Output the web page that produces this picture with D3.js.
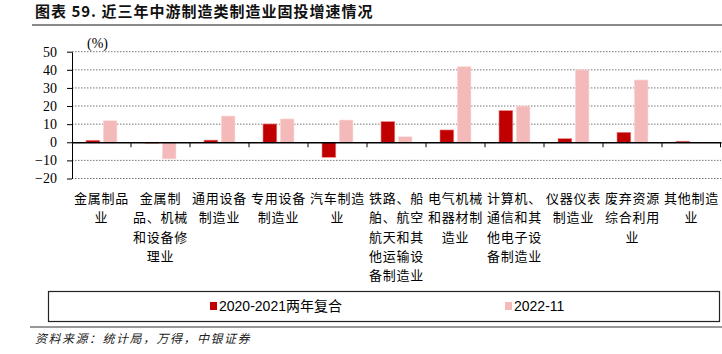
<!DOCTYPE html>
<html>
<head>
<meta charset="utf-8">
<script src="https://cdn.jsdelivr.net/npm/d3@7"></script>
<style>
  body { margin: 0; background: #fff; }
  svg { display: block; }
</style>
</head>
<body>
<div id="chart-area"></div>
<script>
// Data
var categories = [
  "金属制品\n业",
  "金属制\n品、机械\n和设备修\n理业",
  "通用设备\n制造业",
  "专用设备\n制造业",
  "汽车制造\n业",
  "铁路、船\n舶、航空\n航天和其\n他运输设\n备制造业",
  "电气机械\n和器材制\n造业",
  "计算机、\n通信和其\n他电子设\n备制造业",
  "仪器仪表\n制造业",
  "废弃资源\n综合利用\n业",
  "其他制造\n业"
];
var seriesNames = ["2020-2021两年复合", "2022-11"];
var twoYear = [1.1, -0.5, 1.2, 10.1, -8.3, 11.4, 6.8, 17.5, 2.0, 5.5, 0.6];
var nov2022 = [11.9, -9.2, 14.5, 12.9, 12.3, 3.1, 41.8, 20.0, 40.0, 34.4, 0];
var yTicks = [-20, -10, 0, 10, 20, 30, 40, 50];

var colors = ["#c00000", "#f4b9b9"];

var W = 722, H = 354;
var svg = d3.select("#chart-area")
  .append("svg")
  .attr("width", W)
  .attr("height", H);

// Title
svg.append("text")
  .attr("x", 35)
  .attr("y", 17)
  .attr("font-family", "Noto Sans CJK SC")
  .attr("font-weight", "bold")
  .attr("font-size", "15px")
  .attr("letter-spacing", "1px")
  .attr("fill", "#111")
  .text("图表 59. 近三年中游制造类制造业固投增速情况");

svg.append("line")
  .attr("x1", 32).attr("x2", 722)
  .attr("y1", 25).attr("y2", 25)
  .attr("stroke", "#8a8a8a")
  .attr("stroke-width", 2);

// Scales
var x = d3.scaleBand()
  .domain(d3.range(categories.length))
  .range([72, 721]);

var x1 = d3.scaleBand()
  .domain([0, 1])
  .range([14, 45])
  .paddingInner(0.2);

var y = d3.scaleLinear()
  .domain([-20, 50])
  .range([178.5, 51.7]);

// Grid lines
svg.append("g")
  .selectAll("line")
  .data(yTicks.filter(function(d) { return d !== 0; }))
  .enter()
  .append("line")
  .attr("x1", 72).attr("x2", 721)
  .attr("y1", function(d) { return y(d); })
  .attr("y2", function(d) { return y(d); })
  .attr("stroke", "#777")
  .attr("stroke-width", 1)
  .attr("stroke-dasharray", "1.5,1.5");

// Left axis
var yAxis = d3.axisLeft(y)
  .tickValues(yTicks)
  .tickSize(5)
  .tickSizeOuter(0)
  .tickPadding(10);

var gy = svg.append("g")
  .attr("transform", "translate(72,0)")
  .call(yAxis);
gy.select(".domain").attr("stroke", "#000");
gy.selectAll(".tick line").attr("stroke", "#000");
gy.selectAll("text")
  .attr("font-family", "Liberation Serif")
  .attr("font-size", "14px")
  .attr("fill", "#000");

// Unit
svg.append("text")
  .attr("x", 87)
  .attr("y", 48)
  .attr("font-family", "Liberation Serif")
  .attr("font-size", "14px")
  .text("(%)");

// Bars
var series = [twoYear, nov2022];
series.forEach(function(vals, s) {
  svg.append("g")
    .selectAll("rect")
    .data(vals)
    .enter()
    .append("rect")
    .attr("x", function(d, i) { return x(i) + x1(s); })
    .attr("y", function(d) { return y(Math.max(0, d)); })
    .attr("width", x1.bandwidth())
    .attr("height", function(d) { return Math.abs(y(d) - y(0)); })
    .attr("fill", colors[s])
    .attr("stroke", s === 1 ? "#fbe3e3" : "#e88")
    .attr("stroke-width", 0.6);
});

// Zero axis with category ticks
var xAxis = d3.axisBottom(x)
  .tickValues([])
  .tickSizeOuter(0);
var gx = svg.append("g")
  .attr("transform", "translate(0," + y(0) + ")")
  .call(xAxis);
gx.select(".domain").attr("stroke", "#000").attr("stroke-width", 1.5);

gx.selectAll(".sep")
  .data(d3.range(1, categories.length + 1))
  .enter()
  .append("line")
  .attr("class", "sep")
  .attr("x1", function(i) { return i < categories.length ? x(i) : 720.5; })
  .attr("x2", function(i) { return i < categories.length ? x(i) : 720.5; })
  .attr("y1", 0)
  .attr("y2", 5)
  .attr("stroke", "#000");

// Category labels
var lab = svg.append("g")
  .selectAll("text")
  .data(categories)
  .enter()
  .append("text")
  .attr("x", function(d, i) { return x(i) + x.bandwidth() / 2; })
  .attr("y", 203)
  .attr("text-anchor", "middle")
  .attr("font-family", "Noto Sans CJK SC")
  .attr("font-size", "13px")
  .attr("letter-spacing", "0.8px")
  .attr("fill", "#000");

lab.selectAll("tspan")
  .data(function(d) { return d.split("\n"); })
  .enter()
  .append("tspan")
  .attr("x", function() { return this.parentNode.getAttribute("x"); })
  .attr("dy", function(d, i) { return i === 0 ? 0 : 19.3; })
  .text(function(d) { return d; });

// Legend
svg.append("rect")
  .attr("x", 48.5).attr("y", 291.5)
  .attr("width", 671).attr("height", 30)
  .attr("fill", "none")
  .attr("stroke", "#222")
  .attr("stroke-width", 1.2);

var legendX = [210, 505];
var leg = svg.append("g")
  .selectAll("g")
  .data(seriesNames)
  .enter()
  .append("g")
  .attr("transform", function(d, i) { return "translate(" + legendX[i] + ",306)"; });

leg.append("rect")
  .attr("x", 0).attr("y", -4)
  .attr("width", 7).attr("height", 8)
  .attr("fill", function(d, i) { return colors[i]; });

leg.append("text")
  .attr("x", 9)
  .attr("y", 5)
  .attr("font-family", "Liberation Sans, Noto Sans CJK SC")
  .attr("font-size", "14px")
  .text(function(d) { return d; });

// Bottom rule and source
svg.append("line")
  .attr("x1", 30).attr("x2", 722)
  .attr("y1", 327).attr("y2", 327)
  .attr("stroke", "#333")
  .attr("stroke-width", 1.2);

svg.append("text")
  .attr("x", 35)
  .attr("y", 343)
  .attr("font-family", "Noto Sans CJK SC")
  .attr("font-size", "12px")
  .attr("letter-spacing", "1.5px")
  .attr("font-style", "italic")
  .attr("fill", "#222")
  .text("资料来源：统计局，万得，中银证券");
</script>
</body>
</html>
